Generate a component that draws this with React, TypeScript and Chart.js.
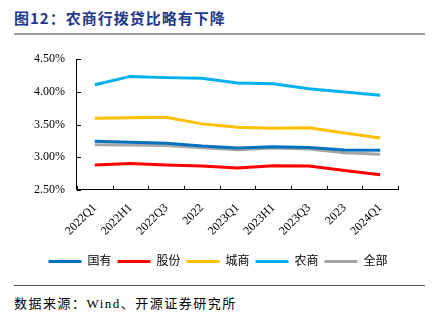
import React, { useEffect, useRef } from "react";
import { Chart, registerables } from "chart.js";

Chart.register(...registerables);

const categories = ["2022Q1", "2022H1", "2022Q3", "2022", "2023Q1", "2023H1", "2023Q3", "2023", "2024Q1"];
const guoyou = [3.245, 3.23, 3.215, 3.17, 3.14, 3.16, 3.15, 3.11, 3.105];
const gufen = [2.88, 2.905, 2.88, 2.865, 2.835, 2.87, 2.865, 2.795, 2.73];
const chengshang = [3.595, 3.605, 3.61, 3.51, 3.46, 3.445, 3.45, 3.37, 3.295];
const nongshang = [4.11, 4.237, 4.218, 4.21, 4.135, 4.125, 4.047, 3.999, 3.95];
const quanbu = [3.19, 3.185, 3.18, 3.145, 3.115, 3.14, 3.125, 3.07, 3.045];
const seriesNames = ["国有", "股份", "城商", "农商", "全部"];
const seriesColors = ["#0070C0", "#FF0000", "#FFC000", "#00B0F0", "#A6A6A6"];

const serif = "'Liberation Serif', 'Times New Roman', serif";
const cjk = "'Liberation Serif', 'Noto Sans CJK SC', serif";

const LEGEND_DX = 8;

const inwardTicks = {
  id: "inwardTicks",
  beforeDraw(chart: any) {
    const lg = chart.legend;
    if (lg && !lg._shifted) {
      lg.left += LEGEND_DX;
      lg.right += LEGEND_DX;
      lg._shifted = true;
    }
  },
  afterDraw(chart: any) {
    const x = chart.scales.x;
    const y = chart.scales.y;
    const ctx = chart.ctx;
    const { bottom, left } = chart.chartArea;
    ctx.save();
    ctx.strokeStyle = "#000";
    ctx.lineWidth = 1;
    const n = x.ticks.length;
    for (let i = 0; i <= n; i++) {
      const px = Math.round(x.getPixelForValue(i - 0.5)) + 0.5;
      ctx.beginPath();
      ctx.moveTo(px, bottom);
      ctx.lineTo(px, bottom - 4);
      ctx.stroke();
    }
    y.ticks.forEach((t: any) => {
      const py = Math.round(y.getPixelForValue(t.value)) + 0.5;
      ctx.beginPath();
      ctx.moveTo(left, py);
      ctx.lineTo(left + 4, py);
      ctx.stroke();
    });
    ctx.restore();
  },
};

export default function App() {
  const ref = useRef<HTMLCanvasElement>(null);
  useEffect(() => {
    const data = [guoyou, gufen, chengshang, nongshang, quanbu];
    const chart = new Chart(ref.current!, {
      type: "line",
      data: {
        labels: categories,
        datasets: data.map((d, i) => ({
          label: seriesNames[i],
          data: d,
          borderColor: seriesColors[i],
          backgroundColor: seriesColors[i],
          borderWidth: 3,
          pointRadius: 0,
          tension: 0,
        })),
      },
      options: {
        animation: false,
        responsive: false,
        maintainAspectRatio: false,
        layout: { padding: { left: 22, right: 37, top: 2, bottom: 2.6 } },
        plugins: {
          tooltip: { enabled: false },
          legend: {
            position: "bottom",
            labels: {
              boxWidth: 33,
              boxHeight: 3,
              padding: 6,
              color: "#000",
              font: { family: cjk, size: 12 },
              generateLabels: (c: any) =>
                Chart.defaults.plugins.legend.labels.generateLabels(c).map((l: any) => ({ ...l, lineWidth: 0 })),
            },
          },
        },
        scales: {
          x: {
            offset: true,
            grid: { display: false, drawTicks: false },
            border: { color: "#000", width: 1 },
            ticks: {
              color: "#000",
              font: { family: serif, size: 12 },
              maxRotation: 45,
              minRotation: 45,
              padding: 11,
            },
          },
          y: {
            min: 2.5,
            max: 4.5,
            grid: { display: false, drawTicks: false },
            border: { color: "#000", width: 1 },
            ticks: {
              stepSize: 0.5,
              color: "#000",
              font: { family: serif, size: 12 },
              padding: 12,
              callback: (v: any) => Number(v).toFixed(2) + "%",
            },
          },
        },
      },
      plugins: [inwardTicks],
    });
    return () => chart.destroy();
  }, []);

  return (
    <div style={{ position: "absolute", left: 0, top: 0, width: 435, height: 322, background: "#fff", overflow: "hidden" }}>
      <div
        style={{
          position: "absolute",
          left: 14,
          top: 7,
          fontFamily: "'Noto Sans CJK SC', sans-serif",
          fontWeight: 700,
          fontSize: 15,
          color: "#1F3A8A",
          whiteSpace: "nowrap",
          letterSpacing: 1,
        }}
      >
        图12：农商行拨贷比略有下降
      </div>
      <div style={{ position: "absolute", left: 14, top: 33, width: 411, height: 2, background: "#999" }} />
      <canvas ref={ref} width={435} height={240} style={{ position: "absolute", left: 0, top: 40 }} />
      <div style={{ position: "absolute", left: 14, top: 285, width: 411, height: 1, background: "#555" }} />
      <div
        style={{
          position: "absolute",
          left: 14,
          top: 293,
          fontFamily: cjk,
          fontSize: 13,
          color: "#000",
          whiteSpace: "nowrap",
          letterSpacing: 1.5,
        }}
      >
        数据来源：Wind、开源证券研究所
      </div>
    </div>
  );
}
